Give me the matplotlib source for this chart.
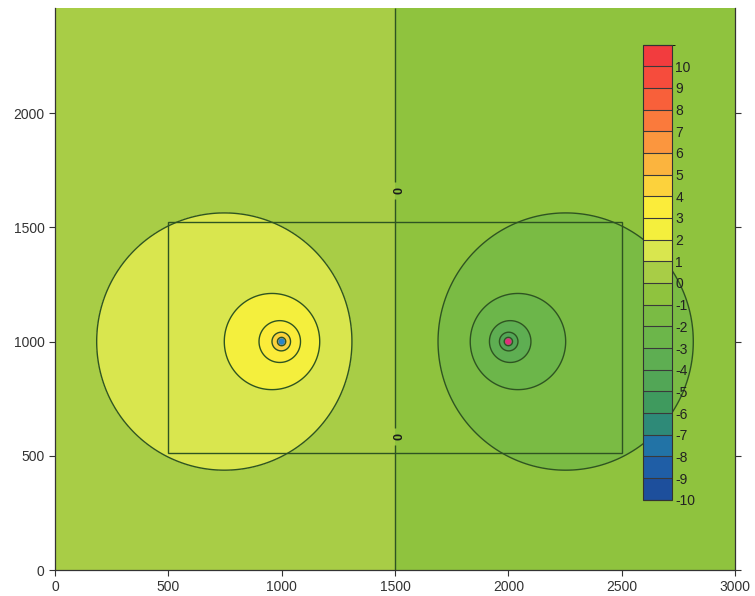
import matplotlib
matplotlib.use('Agg')
import matplotlib.pyplot as plt
from matplotlib.colors import ListedColormap, BoundaryNorm
from matplotlib.patches import Rectangle
import numpy as np

plt.rcParams['font.family'] = ['Liberation Sans', 'DejaVu Sans']
plt.rcParams['axes.unicode_minus'] = False
plt.rcParams['contour.negative_linestyle'] = 'solid'

# 전하 (위치, 세기) - 2차원 로그 포텐셜
charge_x = [1000, 2000]
charge_y = [1000, 1000]
charge_q = [1.25, -1.25]
charge_colors = ['#2a86c8', '#e0307a']

# 등고선 단계 (-10 ~ 11 경계, 라벨은 -10 ~ 10)
levels = np.arange(-10, 12)
tick_levels = np.arange(-10, 11)
level_colors = ['#1d4f9c', '#1f5ea6', '#2273a6', '#2e8a78', '#3f9a5e',
                '#52a656', '#5eae52', '#6cb64a', '#7abb44', '#8fc33e',
                '#a8cd46', '#d9e64e', '#f4ef3d', '#fbec3a', '#fcd23c',
                '#fbb43e', '#fb963e', '#fa7a3c', '#f8603a', '#f64c3c',
                '#f23c3e']
line_color = '#2e5422'

# 직사각형 영역
rect_x = [500, 2500]
rect_y = [510, 1525]

x = np.linspace(0, 3000, 701)
y = np.linspace(0, 2460, 577)
X, Y = np.meshgrid(x, y)
phi = np.zeros_like(X)
for cx, cy, q in zip(charge_x, charge_y, charge_q):
    r = np.maximum(np.hypot(X - cx, Y - cy), 1e-3)
    phi += -q * np.log(r)
# 기준: 두 전하의 중간점에서 0
mid_x = np.mean(charge_x)
mid_y = np.mean(charge_y)
phi0 = sum(-q * np.log(np.hypot(mid_x - cx, mid_y - cy))
           for cx, cy, q in zip(charge_x, charge_y, charge_q))
phi -= phi0

cmap = ListedColormap(level_colors)
cmap.set_over('#f23c3e')
cmap.set_under('#1d4f9c')
norm = BoundaryNorm(levels, cmap.N)

fig = plt.figure(figsize=(7.55, 5.96), dpi=100)
ax = fig.add_axes([0.0728, 0.0436, 0.9007, 0.943])

cf = ax.contourf(X, Y, phi, levels=levels, cmap=cmap, norm=norm, extend='both')
line_levels = [v for v in tick_levels if v != 0]
ax.contour(X, Y, phi, levels=line_levels, colors=line_color, linewidths=1.0)
cs0 = ax.contour(X, Y, phi, levels=[0], colors=line_color, linewidths=1.0)
labels = ax.clabel(cs0, inline=True, fontsize=9, fmt='%d',
                   manual=[(mid_x, 1660), (mid_x, 585)])
for t in labels:
    t.set_fontweight('bold')
    t.set_color('#1a1a1a')

ax.add_patch(Rectangle((rect_x[0], rect_y[0]), rect_x[1] - rect_x[0], rect_y[1] - rect_y[0],
                       fill=False, edgecolor=line_color, linewidth=1.0))

ax.scatter(charge_x, charge_y, c=charge_colors, s=22, edgecolors='none', zorder=5)

ax.set_xlim(0, 3000)
ax.set_ylim(0, 2460)
ax.set_xticks(np.arange(0, 3001, 500))
ax.set_yticks(np.arange(0, 2001, 500))
ax.tick_params(axis='both', direction='out', length=4, width=0.8, labelsize=10, colors='#333333')
ax.tick_params(axis='y', right=True)
ax.spines['top'].set_visible(False)
for s in ['left', 'right', 'bottom']:
    ax.spines[s].set_color('#333333')
    ax.spines[s].set_linewidth(0.9)

# 색상 범례 (축 안쪽 오른쪽 위)
cax = ax.inset_axes([0.865, 0.125, 0.043, 0.81])
cb = fig.colorbar(cf, cax=cax, ticks=tick_levels, drawedges=True, extendfrac=0)
cb.ax.set_ylim(-10, 11)
cb.outline.set_edgecolor('#333333')
cb.outline.set_linewidth(0.8)
cb.dividers.set_color('#3a3a3a')
cb.dividers.set_linewidth(0.8)
cb.ax.tick_params(length=0, labelsize=10, pad=2, colors='#222222')

fig.savefig('out.png', dpi=100, facecolor='white')
